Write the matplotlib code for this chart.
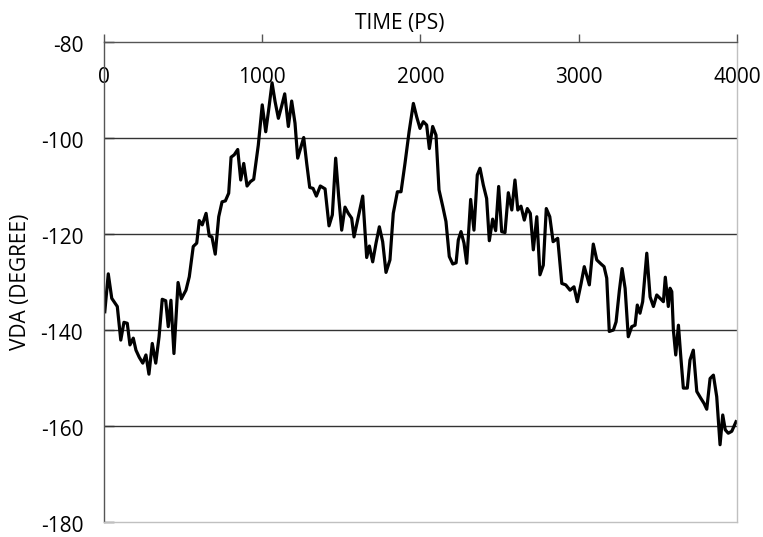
import numpy as np
import matplotlib.pyplot as plt
from matplotlib.transforms import ScaledTranslation

plt.rcParams['font.family'] = ['Open Sans', 'DejaVu Sans']
plt.rcParams['axes.unicode_minus'] = False

# VDA trace over the 4 ns run
time_ps = [5, 27, 49, 84, 106, 126, 147, 164, 185, 202, 223, 245, 265, 284, 305,
           327, 348, 368, 390, 406, 423, 442, 468, 489, 518, 539, 564, 586, 602,
           621, 645, 665, 682, 703, 725, 746, 767, 788, 803, 823, 845, 864, 883,
           904, 925, 946, 975, 1000, 1022, 1043, 1062, 1081, 1102, 1123, 1142,
           1165, 1186, 1207, 1224, 1245, 1262, 1281, 1300, 1321, 1342, 1367, 1397,
           1422, 1443, 1464, 1483, 1502, 1523, 1544, 1565, 1580, 1607, 1635, 1660,
           1677, 1698, 1719, 1740, 1761, 1782, 1807, 1828, 1854, 1877, 1902, 1928,
           1955, 1976, 1997, 2018, 2039, 2056, 2077, 2098, 2117, 2141, 2161, 2182,
           2204, 2225, 2239, 2256, 2275, 2292, 2317, 2338, 2359, 2376, 2397, 2418,
           2435, 2456, 2475, 2494, 2513, 2534, 2555, 2577, 2597, 2615, 2635, 2656,
           2675, 2694, 2713, 2735, 2755, 2776, 2795, 2817, 2838, 2867, 2893, 2918,
           2945, 2970, 2991, 3015, 3035, 3067, 3092, 3114, 3141, 3160, 3177, 3193,
           3219, 3236, 3257, 3274, 3293, 3313, 3335, 3356, 3370, 3387, 3404, 3430,
           3451, 3472, 3493, 3514, 3535, 3547, 3566, 3577, 3588, 3598, 3613, 3630,
           3645, 3661, 3686, 3703, 3724, 3746, 3771, 3792, 3809, 3830, 3851, 3872,
           3893, 3910, 3926, 3945, 3967, 3994]
vda_deg = [-136.2, -128.3, -133.4, -135.1, -142.1, -138.4, -138.6, -143.1, -141.7,
           -144.2, -145.7, -146.9, -145.2, -149.2, -142.8, -146.9, -141.4, -133.6,
           -133.9, -139.3, -133.8, -144.9, -130.1, -133.5, -131.7, -128.9, -122.6,
           -121.9, -117.2, -118.1, -115.7, -120.4, -120.6, -124.2, -116.4, -113.3,
           -113.1, -111.5, -104.0, -103.5, -102.4, -108.75, -105.3, -110.0, -109.1,
           -108.6, -101.5, -93.1, -98.7, -93.5, -88.5, -92.4, -95.9, -93.3, -90.8,
           -97.6, -92.3, -96.9, -104.2, -101.8, -99.9, -105.3, -110.3, -110.5,
           -112.1, -110.0, -110.6, -118.3, -116.0, -104.2, -112.2, -119.2, -114.4,
           -115.7, -116.7, -120.6, -116.4, -112.1, -124.9, -122.5, -125.8, -121.9,
           -118.5, -121.6, -128.0, -125.4, -115.7, -111.2, -111.2, -105.3, -98.7,
           -92.8, -95.6, -98.0, -96.6, -97.3, -102.2, -97.6, -99.4, -110.8, -114.3,
           -117.4, -124.7, -126.25, -126.0, -121.25, -119.5, -121.9, -126.1, -112.8,
           -119.2, -107.7, -106.3, -109.8, -112.6, -121.4, -116.9, -119.3, -110.1,
           -119.5, -119.7, -111.4, -115.0, -108.75, -115.0, -114.2, -117.1, -114.7,
           -115.7, -123.3, -116.4, -128.5, -126.5, -114.7, -116.4, -121.6, -120.9,
           -130.3, -130.6, -131.7, -131.0, -134.1, -130.3, -126.8, -130.6, -122.1,
           -125.4, -126.25, -126.8, -129.2, -140.3, -140.0, -138.3, -131.7, -127.2,
           -131.3, -141.4, -139.3, -139.0, -134.8, -136.5, -134.1, -124.0, -133.1,
           -135.1, -132.7, -133.4, -134.1, -129.0, -135.1, -131.3, -132.0, -140.0,
           -145.2, -139.0, -145.6, -152.1, -152.1, -146.25, -144.2, -152.8, -154.2,
           -155.3, -156.5, -150.1, -149.4, -153.9, -163.9, -157.7, -160.8, -161.5,
           -161.1, -159.1]

x_ticks = [0, 1000, 2000, 3000, 4000]
y_ticks = [-180, -160, -140, -120, -100, -80]

fig = plt.figure(figsize=(7.63, 5.37), dpi=100)
ax = fig.add_axes([0.1363, 0.0279, 0.8296, 0.8939])

ax.plot(time_ps, vda_deg, color='black', linewidth=2.3, solid_joinstyle='round')

ax.set_xlim(0, 4000)
ax.set_ylim(-180, -80)
ax.set_xticks(x_ticks)
ax.set_yticks(y_ticks)

# horizontal grid only
for y in y_ticks[1:-1]:
    ax.axhline(y, color='#333333', linewidth=1, zorder=0)

ax.xaxis.tick_top()
ax.tick_params(axis='x', direction='out', length=6, width=1, color='#555555',
               labelsize=15, pad=-39)
ax.tick_params(axis='y', direction='in', length=7, width=1, color='#333333',
               labelsize=15, pad=15)

# y labels sit a little below their gridlines
shift = ScaledTranslation(0, -0.02, fig.dpi_scale_trans)
for lab in ax.get_yticklabels():
    lab.set_transform(lab.get_transform() + shift)

ax.spines['top'].set_color('#555555')
ax.spines['left'].set_color('#555555')
ax.spines['bottom'].set_color('#c0c0c0')
ax.spines['right'].set_color('#c0c0c0')
for s in ax.spines.values():
    s.set_linewidth(1)

ax.set_xlabel('TIME (PS)', fontsize=15)
ax.xaxis.set_label_position('top')
ax.xaxis.label.set_va('center')
ax.xaxis.set_label_coords(0.4676, 1.0375)

ax.set_ylabel('VDA (DEGREE)', fontsize=15)
ax.yaxis.label.set_va('center')
ax.yaxis.set_label_coords(-0.132, 0.5)

fig.savefig('out.png', dpi=100)
